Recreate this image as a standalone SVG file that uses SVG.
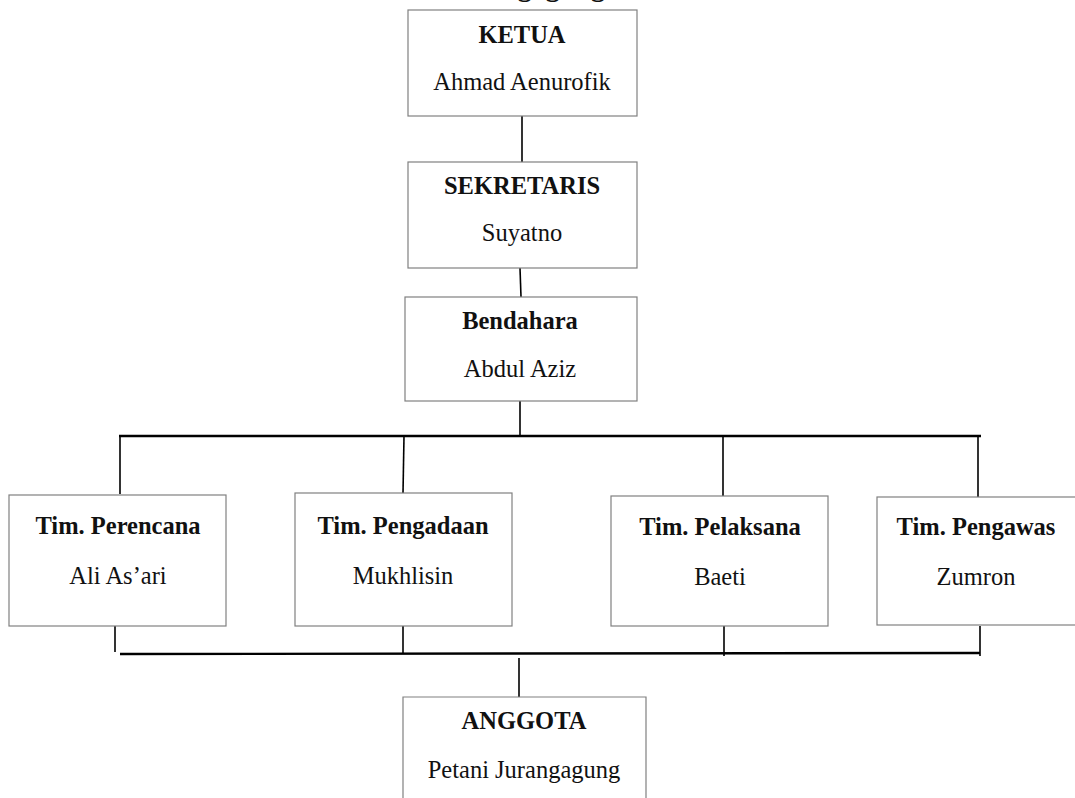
<svg xmlns="http://www.w3.org/2000/svg" width="1075" height="798" viewBox="0 0 1075 798">
<style>
.box{fill:#fff;stroke:#808080;stroke-width:1.2}
.t{font-family:"Liberation Serif","Times New Roman",serif;font-size:24.5px;fill:#111;text-anchor:middle}
.b{font-weight:bold}
.c line{stroke:#000;stroke-width:1.6}
.c line.h{stroke-width:2.4}
</style>
<rect width="1075" height="798" fill="#fff"/>
<text x="605" y="-4" class="t b" style="font-size:28px;text-anchor:end">Jurangagung</text>
<g class="c" id="connectors">
<line x1="522" y1="116" x2="522" y2="162"/>
<line x1="520" y1="268" x2="521" y2="297"/>
<line x1="520" y1="401" x2="520" y2="436"/>
<line class="h" x1="119" y1="436" x2="981" y2="436"/>
<line x1="120" y1="436" x2="120" y2="494"/>
<line x1="404" y1="436" x2="403" y2="493"/>
<line x1="723" y1="436" x2="723" y2="496"/>
<line x1="978" y1="436" x2="978" y2="497"/>
<line x1="115" y1="624" x2="115" y2="652"/>
<line x1="403" y1="626" x2="403" y2="654"/>
<line x1="724" y1="626" x2="724" y2="656"/>
<line x1="980" y1="626" x2="980" y2="656"/>
<line class="h" x1="120" y1="654" x2="980" y2="653"/>
<line x1="519" y1="658" x2="519" y2="698"/>
</g>
<g id="ketua">
<rect class="box" x="408" y="10" width="229" height="106"/>
<text class="t b" x="522" y="43">KETUA</text>
<text class="t" x="522" y="90">Ahmad Aenurofik</text>
</g>
<g id="sekretaris">
<rect class="box" x="408" y="162" width="229" height="106"/>
<text class="t b" x="522" y="194">SEKRETARIS</text>
<text class="t" x="522" y="241">Suyatno</text>
</g>
<g id="bendahara">
<rect class="box" x="405" y="297" width="232" height="104"/>
<text class="t b" x="520" y="329">Bendahara</text>
<text class="t" x="520" y="377">Abdul Aziz</text>
</g>
<g id="perencana">
<rect class="box" x="9" y="495" width="217" height="131"/>
<text class="t b" x="118" y="534">Tim. Perencana</text>
<text class="t" x="118" y="584">Ali As’ari</text>
</g>
<g id="pengadaan">
<rect class="box" x="295" y="493" width="217" height="133"/>
<text class="t b" x="403" y="534">Tim. Pengadaan</text>
<text class="t" x="403" y="584">Mukhlisin</text>
</g>
<g id="pelaksana">
<rect class="box" x="611" y="496" width="217" height="130"/>
<text class="t b" x="720" y="535">Tim. Pelaksana</text>
<text class="t" x="720" y="585">Baeti</text>
</g>
<g id="pengawas">
<rect class="box" x="877" y="497" width="210" height="128"/>
<text class="t b" x="976" y="535">Tim. Pengawas</text>
<text class="t" x="976" y="585">Zumron</text>
</g>
<g id="anggota">
<path class="box" d="M403,798 V697 H646 V798"/>
<text class="t b" x="524" y="729">ANGGOTA</text>
<text class="t" x="524" y="778">Petani Jurangagung</text>
</g>
</svg>
